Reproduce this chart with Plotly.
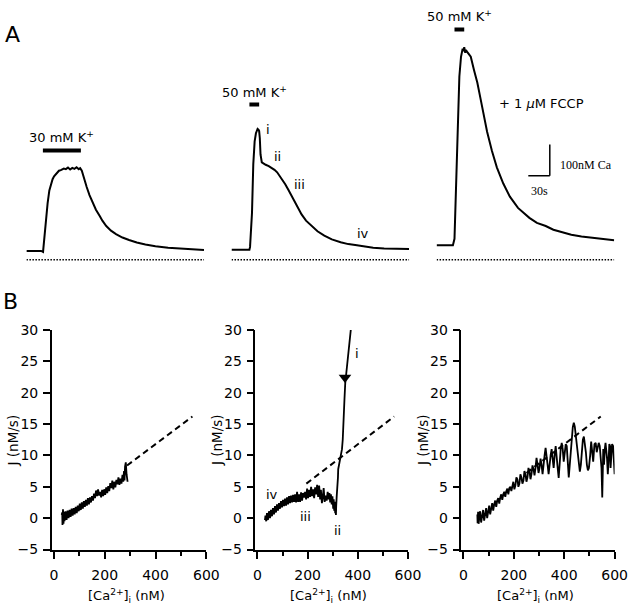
import plotly.graph_objects as go

W, H = 640, 615

# ---------------- Panel A: [Ca2+]i time courses ----------------
# time (s) from trace start, [Ca2+]i (nM)
t_30k = [0, 10, 20.5, 23.2, 25, 27, 29.6, 32, 34.1, 36.5, 38.6, 42, 45.4, 48, 52.2, 55, 58, 61, 64, 67, 70, 73, 75,
         77.3, 80, 84.1, 88, 93.1, 97, 102.3, 106, 111.4, 118, 125, 134, 143.2, 154, 166, 180, 197.7, 210, 220.5, 235, 247.8]
ca_30k = [28, 29, 28, 25, 67, 130, 181, 222, 244, 258, 267, 276, 285, 287, 292, 290, 295, 289, 294, 291, 296, 290, 293,
          285, 262, 233, 207, 181, 160, 140, 125, 108, 93, 82, 71, 63, 55, 49, 43, 38, 36, 34, 33, 31]

t_50k = [0, 12, 25, 25.9, 27, 28.6, 30.4, 32.3, 34.1, 36.4, 37.8, 38.6, 39.5, 40.5, 42.3, 45, 47.7, 52, 56.9, 60, 63.7,
         67, 70.5, 75, 79.5, 84, 88.6, 93, 97.8, 104, 111.4, 120, 129.5, 140, 152.3, 163, 175, 186, 197.7, 213, 229.5, 247.8]
ca_50k = [32, 33, 32, 41, 90, 150, 306, 379, 405, 419, 416, 412, 390, 337, 312, 307, 304, 300, 294, 288, 280,
          270, 259, 242, 223, 203, 181, 163, 145, 125, 108, 91, 77, 65, 56, 50, 46, 42, 38, 36, 35, 34]

t_fccp = [0, 12, 22.8, 25, 27.3, 29.6, 31.8, 34.1, 36.4, 37.5, 38.6, 40, 41, 43.2, 47.7, 52.2, 56.9, 61.4, 65.9, 70.5,
          77.3, 84.1, 93.1, 102.3, 113.6, 129.5, 140, 152.3, 163, 175, 188, 202.2, 215, 229.5, 247.8]
ca_fccp = [46, 47, 46, 67, 244, 452, 587, 650, 676, 668, 681, 663, 672, 664, 650, 608, 567, 515, 462, 410,
           348, 296, 244, 202, 166, 134, 118, 108, 96, 88, 80, 74, 70, 67, 62]

trace_len_s = 248

# K+ depolarisation periods (s) and labels
stim_on = [23, 25, 25]
stim_off = [76, 38.6, 38.6]
stim_text = ["30 mM K<sup>+</sup>", "50 mM K<sup>+</sup>", "50 mM K<sup>+</sup>"]

# phase labels on the 50 mM trace
phase_text = ["i", "ii", "iii", "iv"]
phase_t = [50.5, 64, 95.5, 184]
phase_ca = [416, 331, 241, 84]

# calibration bar
scale_dt = 30     # s
scale_dca = 100   # nM

# ---------------- Panel B: extrusion rate J vs [Ca2+]i ----------------
ca_b30 = [290, 286, 283, 280, 278, 276, 273, 270, 266, 262, 258, 254, 250, 246, 242, 238, 234, 230, 226, 222, 218, 214,
          210, 206, 202, 198, 194, 190, 186, 182, 178, 174, 170, 166, 162, 158, 154, 150, 146, 142, 138, 134, 130, 126,
          122, 118, 114, 110, 106, 102, 98, 94, 90, 86, 82, 78, 74, 70, 66, 62, 58, 54, 50, 46, 42, 40, 38, 36, 34, 33,
          32, 31]
j_b30 = [5.8, 7.0, 8.9, 8.2, 6.0, 7.5, 5.8, 6.9, 5.5, 6.3, 5.3, 6.5, 5.4, 6.1, 4.9, 5.8, 4.6, 6.0, 4.8, 5.6, 4.3, 5.1,
         4.0, 4.9, 3.7, 4.6, 3.5, 4.5, 3.3, 4.2, 3.6, 4.6, 3.5, 4.4, 3.2, 3.9, 2.8, 3.5, 2.5, 3.3, 2.2, 3.2, 2.0, 2.9,
         1.8, 2.7, 1.5, 2.5, 1.3, 2.3, 1.1, 2.0, 0.8, 1.8, 0.6, 1.6, 0.4, 1.5, 0.2, 1.3, 0.0, 1.2, -0.3, 1.1, -0.5, 1.0,
         -0.9, 1.4, -1.1, 0.9, -0.6, 0.5]

ca_b50 = [376, 372, 364, 357, 350, 347, 345, 343, 340, 337, 334, 331, 328, 325, 322, 321, 320, 318, 316, 314, 313, 311,
          310, 308, 306, 304, 302, 299, 296, 293, 290, 287, 284, 280, 276, 272, 268, 264, 260, 257, 253, 250, 246, 242,
          238, 234, 230, 226, 222, 218, 214, 210, 206, 202, 198, 194, 190, 186, 182, 178, 174, 170, 166, 162, 158, 154,
          150, 146, 142, 138, 134, 130, 126, 122, 118, 114, 110, 106, 102, 98, 94, 90, 86, 82, 78, 74, 70, 66,
          62, 58, 54, 50, 46, 42, 38, 35, 32, 30]
j_b50 = [31.5, 30, 27, 24, 21.5, 19, 16.5, 14, 12.5, 11, 10.3, 9.5, 8.5, 8.0, 7.8, 6.5, 5.0, 4.2, 3.5, 2.0, 0.5, 1.8,
         0.8, 2.6, 1.2, 3.0, 1.5, 3.5, 2.2, 3.8, 2.5, 4.0, 3.0, 4.2, 2.8, 3.6, 2.6, 4.8, 3.2, 2.4, 4.5, 3.0, 5.2, 3.4,
         5.3, 3.8, 4.9, 3.2, 4.6, 3.5, 5.0, 3.4, 4.5, 3.2, 4.7, 3.0, 4.2, 3.3, 4.0, 2.8, 4.1, 2.6, 3.8, 2.6, 4.2, 2.5,
         3.8, 2.6, 3.7, 2.5, 3.6, 2.4, 3.5, 2.2, 3.3, 2.0, 3.1, 1.9, 2.9, 1.7, 2.7, 1.5, 2.4, 1.2, 2.2, 0.9, 1.9, 0.6,
         1.6, 0.3, 1.3, 0.0, 1.1, -0.3, 0.8, -0.5, 0.4, -0.3]

ca_bf = [600, 597, 594, 590, 587, 584, 582, 579, 576, 573, 570, 567, 564, 561, 558, 555, 551, 548, 545, 541,
         537, 533, 529, 525, 520, 515, 511, 507, 503, 498, 494, 490, 486, 482, 478, 474, 470, 466, 462, 458,
         454, 450, 446, 442, 438, 434, 430, 426, 422, 418, 414, 410, 406, 402, 398, 394, 390, 386, 382, 378,
         374, 370, 366, 362, 358, 354, 350, 346, 342, 338, 334, 330, 326, 322, 318, 314, 310, 306, 302, 298,
         294, 290, 286, 282, 278, 274, 270, 266, 262, 258, 254, 250, 246, 242, 238, 234, 230, 226, 222, 218,
         214, 210, 206, 202, 198, 194, 190, 186, 182, 178, 174, 170, 166, 162, 158, 154, 150, 146, 142, 138,
         134, 130, 126, 122, 118, 114, 110, 106, 102, 98, 94, 90, 86, 82, 78, 74, 70, 66, 62, 60, 58, 56, 55]
j_bf = [7.0, 9.0, 11.5, 11.8, 9.5, 8.0, 11.5, 11.8, 9.0, 7.0, 9.5, 11.8, 12.0, 11.0, 8.5, 11.0, 3.3, 8.0, 10.5, 11.5,
        12.0, 11.0, 10.5, 12.0, 11.8, 9.0, 11.5, 12.2, 10.0, 8.0, 7.6, 8.5, 10.5, 12.0, 13.0, 12.5, 10.0, 8.5, 7.4, 9.0,
        11.0, 12.5, 13.5, 14.6, 15.2, 14.5, 12.5, 10.0, 7.5, 6.5, 9.0, 11.5, 11.8, 10.5, 9.0, 11.0, 12.0, 11.0, 8.5, 6.4,
        8.0, 10.5, 11.5, 10.0, 8.0, 9.5, 11.0, 10.0, 8.5, 7.0, 8.5, 10.5, 11.2, 10.0, 8.0, 7.0, 8.5, 9.5, 8.0, 7.2,
        8.5, 9.6, 8.0, 6.8, 7.8, 8.4, 7.0, 6.2, 7.5, 8.0, 6.5, 5.8, 7.0, 7.5, 6.0, 5.5, 6.5, 7.0, 5.5, 5.0,
        6.2, 6.5, 5.2, 4.6, 5.8, 5.2, 4.3, 5.0, 4.8, 3.8, 4.7, 4.3, 3.4, 4.2, 3.8, 2.9, 3.8, 3.3, 2.3, 3.2,
        2.8, 1.8, 2.8, 2.2, 1.2, 2.4, 1.5, 0.6, 2.0, 0.8, 0.0, 1.6, 0.3, -0.4, 1.3, -0.2, -0.7, 1.1, -0.5, -0.9,
        1.0, -0.8, 0.6]

# linear fit (dashed) drawn in each panel from the start point to the common end point
fit_ca_start = [288, 195, 250]
fit_j_start = [8.4, 5.5, 7.2]
fit_ca_end = 545
fit_j_end = 16.2

# direction arrow on the 50 mM loop
arrow_ca = [349]
arrow_j = [22.4]

b_phase_text = ["i", "ii", "iii", "iv"]
b_phase_ca = [398, 318, 192, 58]
b_phase_j = [26.2, -2.0, 0.2, 3.8]

x_ticks = [0, 200, 400, 600]
x_minor = [100, 300, 500]
y_ticks = [-5, 0, 5, 10, 15, 20, 25, 30]


# ---------------- figure ----------------
def px(x):
    return x / W


def py(y):
    return 1 - y / H


SANS = "DejaVu Sans"
SERIF = "Liberation Serif"

fig = go.Figure()

a_traces = [(t_30k, ca_30k), (t_50k, ca_50k), (t_fccp, ca_fccp)]
for i, (t, c) in enumerate(a_traces):
    n = i + 4
    fig.add_trace(go.Scatter(x=t, y=c, mode="lines", line=dict(color="black", width=2),
                             xaxis=f"x{n}", yaxis=f"y{n}", hoverinfo="skip"))

b_sets = [(ca_b30, j_b30), (ca_b50, j_b50), (ca_bf, j_bf)]
for i, (c, j) in enumerate(b_sets):
    n = "" if i == 0 else str(i + 1)
    fig.add_trace(go.Scatter(x=[fit_ca_start[i], fit_ca_end], y=[fit_j_start[i], fit_j_end], mode="lines",
                             line=dict(color="black", width=2, dash="6px,4px"),
                             xaxis=f"x{n}", yaxis=f"y{n}", hoverinfo="skip"))
    fig.add_trace(go.Scatter(x=c, y=j, mode="lines", line=dict(color="black", width=1.8),
                             xaxis=f"x{n}", yaxis=f"y{n}", hoverinfo="skip"))

fig.add_trace(go.Scatter(x=arrow_ca, y=arrow_j, mode="markers",
                         marker=dict(symbol="triangle-down", size=11, color="black"),
                         xaxis="x2", yaxis="y2", hoverinfo="skip"))

layout = dict(width=W, height=H, margin=dict(l=0, r=0, t=0, b=0),
              paper_bgcolor="white", plot_bgcolor="white", showlegend=False,
              font=dict(family=SANS, color="black"))

# Panel A axes (hidden), common scale: 0.7339 px/s and 0.32 px/nM
a_x_px = [(25, 207), (235, 417), (445, 627)]
a_y_dom = [py(270), py(0)]
a_y_range = [-37.5, 806.25]
for i, (x0, x1) in enumerate(a_x_px):
    n = i + 4
    layout[f"xaxis{n}"] = dict(domain=[px(x0), px(x1)], range=[0, trace_len_s], visible=False,
                               anchor=f"y{n}", fixedrange=True)
    layout[f"yaxis{n}"] = dict(domain=a_y_dom, range=a_y_range, visible=False,
                               anchor=f"x{n}", fixedrange=True)

# Panel B axes
b_x_px = [(51, 209.3), (259.5, 415.7), (470.5, 627.3)]
b_y_dom = [py(556), py(330)]
for i, (x0, x1) in enumerate(b_x_px):
    n = "" if i == 0 else str(i + 1)
    layout[f"xaxis{n}"] = dict(
        domain=[px(x0), px(x1)], range=[-8, 600], anchor=f"y{n}",
        showline=True, linecolor="black", linewidth=1.5, showgrid=False, zeroline=False,
        ticks="outside", ticklen=7, tickwidth=1.5, tickcolor="black",
        tickvals=x_ticks, ticklabelstandoff=4,
        tickfont=dict(family=SANS, size=14, color="black"),
        minor=dict(tickvals=x_minor, ticks="outside", ticklen=4, tickwidth=1.5,
                   tickcolor="black", showgrid=False),
        fixedrange=True)
    layout[f"yaxis{n}"] = dict(
        domain=b_y_dom, range=[-5.15, 30], anchor=f"x{n}",
        showline=True, linecolor="black", linewidth=1.5, showgrid=False, zeroline=False,
        ticks="outside", ticklen=7, tickwidth=1.5, tickcolor="black",
        tickvals=y_ticks, ticklabelstandoff=2,
        tickfont=dict(family=SANS, size=14, color="black"),
        fixedrange=True)

shapes = []
annotations = []


def ann(**kw):
    kw.setdefault("showarrow", False)
    kw.setdefault("xanchor", "center")
    kw.setdefault("yanchor", "middle")
    annotations.append(kw)


# baseline (0 nM) dotted lines and stimulus bars
bar_level = [350, 497, 737.5]
for i in range(3):
    n = i + 4
    shapes.append(dict(type="line", xref=f"x{n}", yref=f"y{n}", x0=0, x1=trace_len_s, y0=0, y1=0,
                       line=dict(color="black", width=1.5, dash="1.5px,1.5px")))
    shapes.append(dict(type="line", xref=f"x{n}", yref=f"y{n}", x0=stim_on[i], x1=stim_off[i],
                       y0=bar_level[i], y1=bar_level[i], line=dict(color="black", width=4)))
    ann(xref=f"x{n}", yref=f"y{n}", x=(stim_on[i] + stim_off[i]) / 2, y=bar_level[i],
        text=stim_text[i], yanchor="bottom", yshift=3,
        font=dict(family=SANS, size=13, color="black"))

for txt, t, c in zip(phase_text, phase_t, phase_ca):
    ann(xref="x5", yref="y5", x=t, y=c, text=txt, font=dict(family=SANS, size=13, color="black"))

ann(xref="x6", yref="y6", x=146.5, y=500, text="+ 1 <i>μ</i>M FCCP",
    font=dict(family=SANS, size=13, color="black"))

# calibration bar
sb_t1, sb_c0 = 158, 269
shapes.append(dict(type="line", xref="x6", yref="y6", x0=sb_t1, x1=sb_t1, y0=sb_c0, y1=sb_c0 + scale_dca,
                   line=dict(color="black", width=1.5)))
shapes.append(dict(type="line", xref="x6", yref="y6", x0=sb_t1 - scale_dt, x1=sb_t1, y0=sb_c0, y1=sb_c0,
                   line=dict(color="black", width=1.5)))
ann(xref="x6", yref="y6", x=sb_t1, y=sb_c0 + scale_dca / 2, text="100nM Ca",
    xanchor="left", xshift=8, yshift=-5, font=dict(family=SERIF, size=12, color="black"))
ann(xref="x6", yref="y6", x=sb_t1 - scale_dt / 2, y=sb_c0, text="30s",
    yanchor="top", yshift=-6, font=dict(family=SERIF, size=12, color="black"))

# panel letters
ann(xref="paper", yref="paper", x=px(10.5), y=py(27), text="A", font=dict(family=SANS, size=22, color="black"))
ann(xref="paper", yref="paper", x=px(9), y=py(301), text="B", font=dict(family=SANS, size=22, color="black"))

# axis titles for panel B
for x0, x1 in b_x_px:
    ann(xref="paper", yref="paper", x=px(x0 - 39.5), y=py(443), text="J (nM/s)", textangle=-90,
        font=dict(family=SANS, size=13.5, color="black"))
    ann(xref="paper", yref="paper", x=px((x0 + x1) / 2 - 3), y=py(603),
        text="[Ca<sup>2+</sup>]<sub>i</sub> (nM)", font=dict(family=SANS, size=13, color="black"))

for txt, c, j in zip(b_phase_text, b_phase_ca, b_phase_j):
    ann(xref="x2", yref="y2", x=c, y=j, text=txt, font=dict(family=SANS, size=13, color="black"))

layout["shapes"] = shapes
layout["annotations"] = annotations
fig.update_layout(**layout)

# remove the default 8px page margin synchronously (while the page is parsed)
page_css = ("}); document.documentElement.style.margin='0'; document.body.style.margin='0'; "
            "document.body.style.overflow='hidden'; void (function(){")
fig.write_html("out.html", config={"displayModeBar": False}, post_script=page_css)
